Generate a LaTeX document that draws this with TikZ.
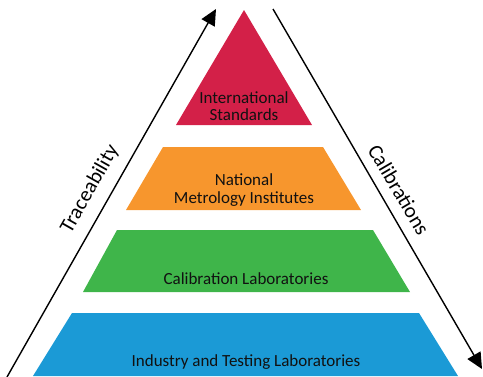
\documentclass[tikz,border=0pt]{standalone}
\usepackage{fontspec}
\setmainfont{Carlito}
\usetikzlibrary{arrows.meta}
\definecolor{cred}{HTML}{D32048}
\definecolor{corange}{HTML}{F7962D}
\definecolor{cgreen}{HTML}{3FB54A}
\definecolor{cblue}{HTML}{1B9AD6}
\definecolor{ctext}{HTML}{111111}
\begin{document}
\begin{tikzpicture}[x=1pt,y=-1pt,
  lbl/.style={text=ctext,font=\fontsize{17}{17.5}\selectfont,align=center,inner sep=0pt},
  side/.style={text=black,font=\fontsize{21}{22}\selectfont,inner sep=0pt},
  flow/.style={line width=1.4pt,-{Triangle[length=16pt,width=15pt]}}]
\useasboundingbox (0,0) rectangle (483,376);
% levels
\fill[cred] (244,10) -- (312,125) -- (176,125) -- cycle;
\fill[corange] (163,147) -- (323,147) -- (361,210) -- (126,210) -- cycle;
\fill[cgreen] (117,230) -- (373,230) -- (410,292) -- (83,292) -- cycle;
\fill[cblue] (72,313) -- (419,313) -- (458,376) -- (33,376) -- cycle;
% labels
\node[lbl] (intl) at (244,106) {International\\Standards};
\node[lbl] (natl) at (244,190) {National\\Metrology Institutes};
\node[lbl] (cal) at (246,279) {Calibration Laboratories};
\node[lbl] (ind) at (246,362) {Industry and Testing Laboratories};
% arrows
\coordinate (lb) at (7,377);
\coordinate (lt) at (216,9);
\coordinate (rt) at (273,9);
\coordinate (rb) at (482,369);
\draw[flow] (lb) -- (lt);
\draw[flow] (rt) -- (rb);
\node[side,rotate=60.5] (trace) at (90,189) {Traceability};
\node[side,rotate=-59.5] (calib) at (399,190) {Calibrations};
\end{tikzpicture}
\end{document}
